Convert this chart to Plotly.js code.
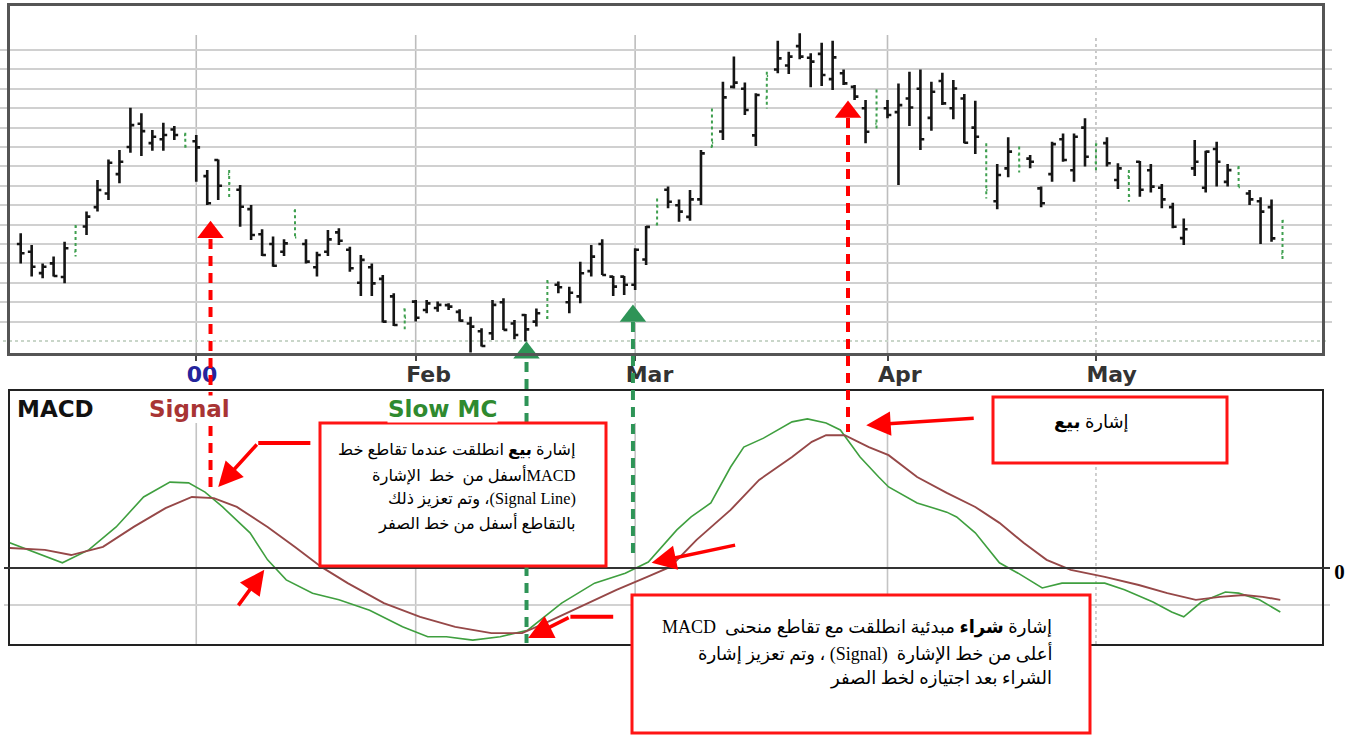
<!DOCTYPE html>
<html><head><meta charset="utf-8">
<script src="https://cdn.plot.ly/plotly-3.0.1.min.js"></script>
<style>html,body{margin:0;padding:0;background:#fff;}#chart{width:1354px;height:735px;}</style>
</head><body><div id="chart"></div>
<script>
// ---- price bars (one per trading day, index 0..115) ----
const barOpen  = [5.0,4.6,3.5,4.0,3.3,4.6,5.9,6.9,7.6,8.6,10.0,11.2,10.2,10.4,10.9,10.6,10.3,8.5,9.33,8.6,7.8,6.8,5.5,5.0,4.6,6.7,5.0,3.8,4.6,5.6,4.7,3.0,3.8,3.2,2.3,1.63,2.03,1.6,1.7,
  1.85,1.5,0.9,0.5,0.4,2.0,0.9,1.34,1.0,1.2,2.9,2.0,2.3,3.6,5.0,3.32,3.32,2.9,4.2,6.0,7.8,7.0,6.4,7.3,10.0,10.8,13.1,13.0,10.6,12.5,14.0,14.2,15.2,14.6,14.8,13.5,13.8,13.1,12.0,11.2,12.0,
  11.8,12.5,13.0,11.5,13.4,12.0,12.5,11.0,9.8,7.2,8.9,9.6,9.4,7.87,8.6,10.4,8.8,11.0,9.2,10.2,8.3,8.5,9.24,8.8,7.9,6.9,5.3,8.9,7.9,9.9,8.2,8.9,7.6,7.2,6.9,4.5];
const barHigh  = [5.55,4.95,4.00,4.35,5.12,5.98,6.67,8.30,9.36,9.85,12.03,11.74,10.88,11.25,11.08,10.74,10.62,8.81,9.36,8.81,8.04,7.01,5.76,5.38,5.24,6.79,5.24,4.60,5.72,5.81,4.86,4.43,4.00,3.40,2.46,1.68,2.11,2.11,2.03,
  1.94,1.63,1.25,0.65,2.11,2.20,1.08,1.39,1.68,3.14,3.06,2.80,4.09,4.95,5.24,3.35,3.35,4.78,5.93,7.35,7.96,7.30,7.78,9.85,11.99,13.37,14.66,13.32,12.77,13.88,15.48,14.91,15.86,14.83,15.38,15.48,14.00,13.20,12.42,12.97,12.42,
  13.28,13.88,14.00,13.37,13.83,13.45,12.73,12.39,10.19,9.12,10.50,10.02,9.59,7.96,10.27,10.70,10.70,11.48,10.19,10.50,9.16,8.81,9.28,9.12,8.09,7.13,6.32,10.36,9.81,10.27,9.12,9.02,7.78,7.41,7.30,6.24];
const barLow   = [4.00,3.32,3.23,3.32,2.97,4.35,5.46,6.67,7.27,8.13,9.71,9.54,9.81,9.81,10.36,9.81,8.21,7.01,7.27,7.27,5.89,5.21,4.38,3.83,4.38,5.29,4.00,3.32,4.38,4.95,3.57,2.32,2.32,0.95,0.77,0.60,1.00,1.43,1.51,
  1.60,1.00,-0.60,-0.29,0.05,0.57,0.09,-0.03,0.74,1.00,2.46,1.43,1.94,3.32,3.40,2.32,2.37,2.63,3.92,5.81,6.84,6.15,6.20,7.01,9.85,10.36,13.02,11.65,10.05,11.99,13.80,13.76,14.52,13.08,13.14,12.94,13.20,12.42,10.19,10.88,11.48,
  8.04,11.08,9.85,10.84,12.16,11.43,10.19,9.64,7.35,6.79,8.44,8.68,8.90,6.89,8.21,9.24,8.21,8.99,8.73,8.99,7.84,7.18,7.44,7.65,6.84,5.81,4.95,8.51,7.65,7.96,7.96,7.87,7.01,5.00,5.12,4.18];
const barClose = [4.52,3.83,3.83,3.35,4.78,5.89,6.41,7.78,9.19,9.24,11.13,10.82,10.53,10.62,10.62,10.02,9.98,7.10,8.0,8.13,6.92,5.46,4.43,3.88,5.03,5.34,4.09,4.43,5.24,5.17,3.75,4.18,2.97,1.00,0.82,1.2,1.2,1.94,1.86,
  1.77,1.05,0.74,-0.26,1.86,0.57,0.31,0.6,1.43,3.01,2.77,2.49,3.49,4.35,3.40,2.8,2.9,4.7,5.88,6.92,7.18,6.67,7.30,9.67,10.22,12.56,13.32,11.91,12.68,13.66,14.57,14.66,14.66,14.40,13.71,14.62,13.28,12.6,10.79,11.99,11.65,
  12.16,12.04,10.40,12.85,12.25,13.02,10.22,10.53,7.78,8.56,9.76,8.99,9.24,7.1,10.15,9.33,10.53,9.50,10.14,9.16,8.90,7.47,7.8,7.96,7.30,5.89,5.76,9.24,9.76,9.24,8.81,7.92,7.30,6.67,5.29,6.2];
const greenBars = [5,15,19,25,35,48,58,63,68,78,88,91,98,101,111,115];

// ---- axis ticks ----
const monthTicks  = [16,36,56,79,98];
const monthLabels = ['<span style="color:#24249c">00</span>','Feb','Mar','Apr','May'];
const priceGrid   = [1,2,3,4,5,6,7,8,9,10,11,12,13,14,15];

// ---- MACD panel ----
const macdX = [-1,1.4,3.8,6.2,8.7,11.2,13.6,15.3,16.8,18.4,20.9,22.5,24.2,26.6,29,31.8,34.8,37.1,38.8,41.2,43.7,46.2,49.3,52.3,55.1,57.2,59.8,61.1,62.9,64.7,65.9,67.7,70.3,71.7,73.4,74.7,76.5,78.2,79.1,81.7,84.4,85.3,87,89.2,90.9,93.1,94.9,98.8,100.6,103.2,104.9,106,107.6,109.8,111,112.9,114.8];
const macdY = [0.68,0.41,0.14,0.49,1.11,1.92,2.32,2.30,2.05,1.65,0.95,0.22,-0.32,-0.68,-0.86,-1.14,-1.59,-1.86,-1.86,-1.95,-1.86,-1.68,-0.95,-0.41,-0.14,0.16,1.03,1.38,1.76,2.73,3.27,3.51,3.95,4.03,3.92,3.73,3.00,2.46,2.19,1.76,1.51,1.38,0.95,0.14,-0.14,-0.54,-0.41,-0.41,-0.59,-0.92,-1.19,-1.32,-0.92,-0.65,-0.68,-0.86,-1.19];
const signalX = [-1,2.2,4.6,7.5,10.3,13.2,15.6,17.6,19.7,22.5,25,27.4,29.8,33.1,36.4,39.6,42.9,45.7,47.8,51,54.3,57.1,59.2,61.6,64.7,67.3,70.3,72.1,73.4,75.1,77.3,79.1,81.7,84.4,87,89.2,91.4,93.5,95.7,98.8,101.9,104.5,107.1,109.3,111.5,113.2,114.8];
const signalY = [0.54,0.49,0.35,0.57,1.11,1.62,1.92,1.89,1.65,1.11,0.57,0.03,-0.41,-0.95,-1.32,-1.59,-1.76,-1.76,-1.49,-1.05,-0.59,-0.24,0.03,0.76,1.57,2.38,3.00,3.41,3.59,3.59,3.27,3.05,2.46,2.03,1.65,1.22,0.68,0.22,-0.05,-0.24,-0.46,-0.68,-0.86,-0.78,-0.73,-0.78,-0.86];

// ---- trade signals ----
const signalBars  = [17.3, 46.1, 55.8, 75.4];
const signalMarkY = [5.6, -0.61, 1.29, 11.8];
const signalKind  = ['sell','buy','buy','sell'];

// ---- text ----
const legendNames = ['MACD','Signal','Slow MC'];
const RLE='\u202B', PDF='\u202C';
const sellNote = ['إشارة <b>بيع</b> انطلقت عندما تقاطع خط','MACDأسفل من  خط  الإشارة','(Signal Line)، وتم تعزيز ذلك','بالتقاطع أسفل من خط الصفر'];
const sellLabel = ['إشارة <b>بيع</b>'];
const buyNote = ['إشارة <b>شراء</b> مبدئية انطلقت مع تقاطع منحنى  MACD','أعلى من خط الإشارة  (Signal) ، وتم تعزيز إشارة','الشراء بعد اجتيازه لخط الصفر'];

// ---- layout helpers (pixel -> paper) ----
const W=1354,H=735,ML=10,MR=32,MT=6,MB=91;
const PW=W-ML-MR, PH=H-MT-MB;
const px = x => (x-ML)/PW;
const py = y => (H-MB-y)/PH;

const RED='#ff0000', GREEN='#2e9457';
const colorOf = k => k==='sell'?RED:GREEN;

// build OHLC traces
const idx = barOpen.map((_,i)=>i);
const blackIdx = idx.filter(i=>!greenBars.includes(i));
const pick = (arr, ids) => ids.map(i=>arr[i]);
const blackTrace = {type:'ohlc', x:blackIdx, open:pick(barOpen,blackIdx), high:pick(barHigh,blackIdx), low:pick(barLow,blackIdx), close:pick(barClose,blackIdx),
  increasing:{line:{color:'#151515',width:2.6}}, decreasing:{line:{color:'#151515',width:2.6}}, tickwidth:0.35, hoverinfo:'skip', xaxis:'x', yaxis:'y', showlegend:false};
const greenTrace = {type:'ohlc', x:greenBars, open:pick(barOpen,greenBars), high:pick(barHigh,greenBars), low:pick(barLow,greenBars), close:pick(barClose,greenBars),
  increasing:{line:{color:'#3f9f4f',width:2,dash:'dot'}}, decreasing:{line:{color:'#3f9f4f',width:2,dash:'dot'}}, tickwidth:0.117, hoverinfo:'skip', xaxis:'x', yaxis:'y', showlegend:false};
const markTrace = {type:'scatter', mode:'markers', x:signalBars, y:signalMarkY, cliponaxis:false, hoverinfo:'skip',
  marker:{symbol:'triangle-up', size:23, color:signalKind.map(colorOf)}, xaxis:'x', yaxis:'y', showlegend:false};
const macdTrace = {type:'scatter', mode:'lines', x:macdX, y:macdY, line:{color:'#3f9f3f',width:1.6}, xaxis:'x2', yaxis:'y2', name:'Slow MC', showlegend:false, hoverinfo:'skip'};
const sigTrace  = {type:'scatter', mode:'lines', x:signalX, y:signalY, line:{color:'#964848',width:1.9}, xaxis:'x2', yaxis:'y2', name:'Signal', showlegend:false, hoverinfo:'skip'};

const topDom = [py(353), 1];
const botDom = [0, py(391)];

const shapes = [];
monthTicks.forEach((t,i)=>{
  const dash = i===monthTicks.length-1 ? 'dot' : 'solid';
  shapes.push({type:'line', layer:'below', xref:'x', yref:'paper', x0:t, x1:t, y0:py(353), y1:py(35), line:{color:'#bdbdbd', width:1.6, dash}});
  shapes.push({type:'line', layer:'below', xref:'x2', yref:'paper', x0:t, x1:t, y0:py(644), y1:py(423), line:{color:'#c4c4c4', width:1.6, dash}});
});
shapes.push({type:'line', layer:'below', xref:'paper', yref:'y', x0:px(3), x1:px(1327), y0:0, y1:0, line:{color:'#c9d6c9', width:2, dash:'dot'}});
shapes.push({type:'line', layer:'below', xref:'paper', yref:'y2', x0:px(4), x1:px(1330), y0:-1, y1:-1, line:{color:'#d2d2d2', width:2}});
shapes.push({type:'line', xref:'paper', yref:'y2', x0:px(4), x1:px(1330), y0:0, y1:0, line:{color:'#333', width:2}});
const dashStart = [239, 362, 322, 118];
const dashEnd   = [487, 643, 560, 432];
signalBars.forEach((b,i)=>{
  shapes.push({type:'line', xref:'x', yref:'paper', x0:b, x1:b, y0:py(dashStart[i]), y1:py(dashEnd[i]), line:{color:colorOf(signalKind[i]), width:4, dash:'10px,7px'}});
});
const boxes = [[320,423,606,566],[993,397,1227,463],[632,595,1090,733]];
boxes.forEach(b=>{
  shapes.push({type:'rect', xref:'paper', yref:'paper', x0:px(b[0]), x1:px(b[2]), y0:py(b[3]), y1:py(b[1]), fillcolor:'#ffffff', line:{color:'#ff1414', width:3}});
});
shapes.push({type:'line', xref:'x2', yref:'y2', x0:21.65, x1:26.4, y0:3.38, y1:3.38, line:{color:RED, width:4}});
shapes.push({type:'line', xref:'x2', yref:'y2', x0:50.1, x1:54.0, y0:-1.32, y1:-1.32, line:{color:RED, width:4}});

const annotations = [];
const legendColors = ['#111111','#a83434','#2f8a2f'];
const legendLeft = [16,148,387];
legendNames.forEach((n,i)=>{
  annotations.push({xref:'paper', yref:'paper', x:px(legendLeft[i]), y:py(409), xanchor:'left', yanchor:'middle', showarrow:false,
    text:'<b>'+n+'</b>', bgcolor:'#ffffff', borderpad:0, font:{family:'DejaVu Sans', size:23, color:legendColors[i]}});
});
const arrows = [[18.0,2.19,40,-44],[22.2,-0.05,-27,37],[57.5,0.14,85,-18],[77.06,3.86,109,-7],[46.25,-1.89,42,-21]];
arrows.forEach(a=>{
  annotations.push({xref:'x2', yref:'y2', x:a[0], y:a[1], ax:a[2], ay:a[3], text:'', showarrow:true, arrowhead:2, arrowsize:1.4, arrowwidth:3.5, arrowcolor:RED, standoff:0});
});
// note texts, one annotation per line (right aligned, RTL)
const noteFamily = 'Liberation Serif, DejaVu Sans, serif';
function addNote(lines, right, ys, size){
  lines.forEach((l,i)=>{
    annotations.push({xref:'paper', yref:'paper', x:px(right), y:py(ys[i]), xanchor:'right', yanchor:'middle', align:'right', showarrow:false,
      text:RLE+l+PDF, font:{family:noteFamily, size, color:'#000'}});
  });
}
addNote(sellNote, 578, [450,475,499,523], 16.3);
addNote(sellLabel, 1131, [422], 18);
addNote(buyNote, 1054, [627,653,678], 18);

const layout = {
  width:W, height:H, margin:{l:ML, r:MR, t:MT, b:MB}, paper_bgcolor:'#ffffff', plot_bgcolor:'rgba(0,0,0,0)',
  showlegend:false, dragmode:false,
  xaxis:{domain:[0,1], anchor:'y', range:[-0.975,118.6], rangeslider:{visible:false}, tickvals:monthTicks, ticktext:monthLabels,
    ticks:'outside', ticklen:5, tickwidth:2, tickcolor:'#444', showgrid:false, zeroline:false,
    showline:true, mirror:true, linecolor:'#555', linewidth:3,
    tickfont:{family:'DejaVu Sans', size:22, color:'#333', weight:'bold'}, ticklabelposition:'outside right', ticklabelshift:-12},
  yaxis:{domain:topDom, anchor:'x', range:[-0.62,17.27], tickvals:priceGrid, showticklabels:false, ticks:'outside', ticklen:7, tickwidth:2, tickcolor:'#d0d0d0',
    showgrid:true, gridcolor:'#d0d0d0', gridwidth:2, zeroline:false, showline:true, mirror:'ticks', linecolor:'#555', linewidth:3},
  xaxis2:{domain:[0,1], anchor:'y2', matches:'x', range:[-0.975,118.6], showticklabels:false, ticks:'', showgrid:false, zeroline:false,
    showline:true, mirror:true, linecolor:'#222', linewidth:2},
  yaxis2:{domain:botDom, anchor:'x2', side:'right', range:[-2.054,4.784], tickvals:[0], ticktext:['<b>0</b>'], ticks:'outside', ticklen:6, tickwidth:2, tickcolor:'#333',
    tickfont:{family:'Liberation Serif', size:21, color:'#000'}, ticklabelshift:4, showgrid:false, zeroline:false, showline:true, mirror:true, linecolor:'#222', linewidth:2},
  shapes, annotations
};
Plotly.newPlot('chart', [blackTrace, greenTrace, markTrace, macdTrace, sigTrace], layout, {staticPlot:true, displayModeBar:false});
</script></body></html>
